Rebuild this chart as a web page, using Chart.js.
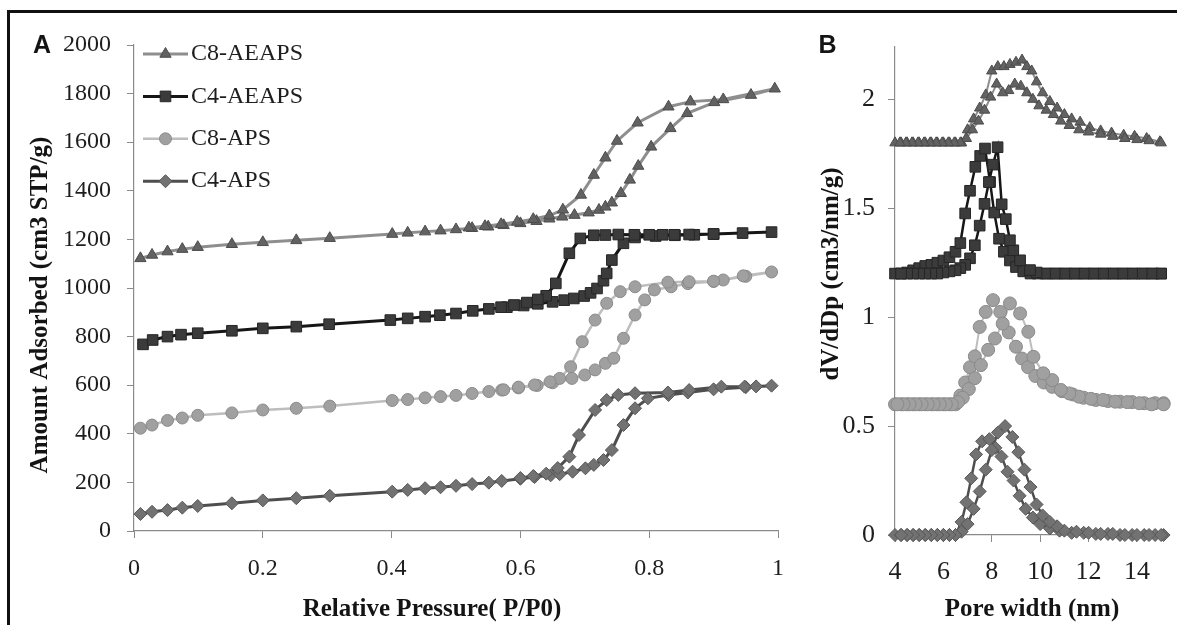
<!DOCTYPE html>
<html>
<head>
<meta charset="utf-8">
<script src="https://cdn.jsdelivr.net/npm/chart.js@4.4.1/dist/chart.umd.min.js"></script>
<style>
  html, body { margin: 0; padding: 0; background: #fff; }
  #wrap { position: relative; width: 1177px; height: 625px; overflow: hidden; background: #fff; }
  #frame { position: absolute; left: 7px; top: 10px; width: 1200px; height: 660px;
           border-top: 3px solid #111; border-left: 3px solid #111; }
  #isotherm { position: absolute; left: 0; top: 0; }
  #psd { position: absolute; left: 800px; top: 0; }
</style>
</head>
<body>
<div id="wrap">
  <div id="frame"></div>
  <canvas id="isotherm" width="800" height="625"></canvas>
  <canvas id="psd" width="377" height="625"></canvas>
</div>
<script>
// ---------- Panel A: N2 isotherms (relative pressure P/P0, amount adsorbed cm3 STP/g) ----------
const c8aeapsAdsP = [0.01,0.028,0.052,0.075,0.099,0.152,0.2,0.252,0.304,0.401,0.425,0.452,0.476,0.5,0.525,0.55,0.574,0.6,0.625,0.645,0.665,0.684,0.706,0.722,0.732,0.742,0.756,0.77,0.783,0.803,0.833,0.859,0.901,0.958,0.995];
const c8aeapsAdsV = [1122,1136,1150,1160,1168,1180,1188,1196,1205,1222,1227,1232,1236,1241,1246,1252,1258,1266,1275,1285,1293,1300,1310,1321,1334,1351,1390,1445,1502,1581,1657,1719,1764,1794,1820];
const c8aeapsDesP = [0.915,0.864,0.83,0.782,0.75,0.732,0.714,0.694,0.666,0.645,0.62,0.595,0.57,0.545,0.52];
const c8aeapsDesV = [1776,1767,1746,1680,1605,1536,1465,1383,1322,1298,1283,1272,1262,1254,1248];

const c4aeapsAdsP = [0.014,0.029,0.052,0.073,0.099,0.152,0.2,0.252,0.303,0.398,0.425,0.452,0.475,0.5,0.526,0.551,0.579,0.605,0.627,0.65,0.668,0.683,0.699,0.709,0.719,0.729,0.734,0.742,0.76,0.778,0.81,0.84,0.87,0.9,0.945,0.99];
const c4aeapsAdsV = [768,786,800,808,814,824,834,841,851,868,875,882,888,895,906,914,921,928,935,943,950,957,967,980,998,1030,1060,1115,1184,1208,1214,1217,1219,1222,1226,1230];
const c4aeapsDesP = [0.9,0.862,0.839,0.821,0.8,0.777,0.752,0.732,0.714,0.693,0.676,0.655,0.64,0.627,0.61,0.59,0.57];
const c4aeapsDesV = [1222,1220,1219,1219,1219,1219,1220,1218,1217,1204,1143,1019,968,953,940,930,921];

const c8apsAdsP = [0.01,0.028,0.052,0.075,0.099,0.152,0.2,0.252,0.304,0.401,0.425,0.452,0.476,0.5,0.525,0.551,0.571,0.597,0.626,0.65,0.68,0.7,0.716,0.732,0.745,0.76,0.778,0.793,0.808,0.834,0.86,0.9,0.95,0.99];
const c8apsAdsV = [423,436,455,465,476,486,498,505,514,537,541,548,553,558,566,574,580,589,599,610,628,642,663,690,711,793,889,951,992,1005,1018,1027,1048,1066];
const c8apsDesP = [0.946,0.915,0.9,0.862,0.829,0.778,0.755,0.734,0.716,0.696,0.678,0.661,0.646,0.622,0.597,0.574];
const c8apsDesV = [1050,1033,1028,1026,1024,1005,985,937,868,779,676,628,614,601,592,581];

const c4apsAdsP = [0.01,0.028,0.052,0.075,0.099,0.152,0.2,0.252,0.304,0.401,0.425,0.452,0.476,0.5,0.525,0.551,0.571,0.6,0.622,0.647,0.661,0.681,0.701,0.714,0.729,0.742,0.76,0.778,0.798,0.83,0.86,0.9,0.95,0.99];
const c4apsAdsV = [70,79,86,96,103,114,126,135,145,162,169,176,180,186,193,199,206,215,222,229,234,244,258,272,292,333,436,505,546,560,570,583,592,598];
const c4apsDesP = [0.966,0.948,0.912,0.862,0.829,0.778,0.752,0.734,0.716,0.691,0.676,0.658,0.64,0.62,0.6];
const c4apsDesV = [595,594,594,580,570,567,560,539,498,395,306,259,236,226,218];

const pressureTicks = [0, 0.2, 0.4, 0.6, 0.8, 1];
const pressureTickLabels = ['0', '0.2', '0.4', '0.6', '0.8', '1'];
const amountTicks = [0, 200, 400, 600, 800, 1000, 1200, 1400, 1600, 1800, 2000];
const amountTickLabels = ['0', '200', '400', '600', '800', '1000', '1200', '1400', '1600', '1800', '2000'];

// ---------- Panel B: pore size distributions (pore width nm, dV/dDp, stacked offsets) ----------
const c8aeapsPsd1W = [4.0,4.25,4.5,4.75,5.0,5.25,5.5,5.75,6.0,6.25,6.5,6.75,7.0,7.25,7.5,7.75,8.0,8.25,8.5,8.75,9.0,9.25,9.45,9.65,9.85,10.1,10.4,10.7,11.0,11.3,11.65,12.05,12.5,12.95,13.45,13.9,14.4,14.95];
const c8aeapsPsd1D = [1.8,1.8,1.8,1.8,1.8,1.8,1.8,1.8,1.8,1.8,1.8,1.8,1.86,1.91,1.96,2.02,2.13,2.15,2.15,2.16,2.17,2.18,2.15,2.13,2.08,2.03,1.99,1.96,1.93,1.91,1.895,1.87,1.855,1.845,1.835,1.83,1.82,1.805];
const c8aeapsPsd2W = [15.0,14.5,14.0,13.5,13.0,12.5,12.0,11.6,11.2,10.85,10.55,10.25,9.95,9.7,9.45,9.2,8.95,8.7,8.45,8.2,7.95,7.7,7.45,7.2,6.95,6.7,6.45,6.2,5.95,5.7,5.45,5.2,4.95,4.7,4.45,4.2];
const c8aeapsPsd2D = [1.8,1.81,1.815,1.82,1.83,1.84,1.85,1.86,1.88,1.9,1.93,1.95,1.97,2.0,2.03,2.06,2.07,2.04,2.03,2.07,2.01,1.95,1.9,1.86,1.82,1.8,1.8,1.8,1.8,1.8,1.8,1.8,1.8,1.8,1.8,1.8];

const c4aeapsPsd1W = [4.0,4.25,4.5,4.75,5.0,5.25,5.5,5.75,6.0,6.25,6.5,6.7,6.9,7.1,7.32,7.52,7.72,7.93,8.1,8.3,8.5,8.75,9.0,9.3,9.6,9.9,10.3,10.7,11.1,11.5,11.9,12.3,12.7,13.1,13.5,13.9,14.3,14.7,15.0];
const c4aeapsPsd1D = [1.2,1.2,1.205,1.215,1.225,1.235,1.24,1.25,1.26,1.275,1.3,1.34,1.476,1.58,1.69,1.74,1.774,1.62,1.48,1.36,1.3,1.26,1.23,1.21,1.2,1.2,1.2,1.2,1.2,1.2,1.2,1.2,1.2,1.2,1.2,1.2,1.2,1.2,1.2];
const c4aeapsPsd2W = [15.0,14.6,14.2,13.8,13.4,13.0,12.6,12.2,11.8,11.4,11.0,10.6,10.2,9.85,9.58,9.17,8.89,8.75,8.58,8.41,8.24,8.05,7.88,7.7,7.5,7.3,7.1,6.9,6.7,6.5,6.25,6.0,5.75,5.5,5.25,5.0,4.75,4.5,4.25];
const c4aeapsPsd2D = [1.2,1.2,1.2,1.2,1.2,1.2,1.2,1.2,1.2,1.2,1.2,1.2,1.2,1.205,1.216,1.261,1.307,1.353,1.45,1.518,1.78,1.7,1.62,1.52,1.42,1.33,1.27,1.24,1.225,1.215,1.21,1.205,1.2,1.2,1.2,1.2,1.2,1.2,1.2];

const c8apsPsd1W = [4.0,4.25,4.5,4.75,5.0,5.25,5.5,5.75,6.0,6.25,6.5,6.7,6.9,7.1,7.3,7.5,7.75,8.05,8.35,8.7,9.0,9.25,9.5,9.8,10.15,10.5,10.9,11.35,11.8,12.3,12.8,13.3,13.8,14.3,14.75,15.1];
const c8apsPsd1D = [0.6,0.6,0.6,0.6,0.6,0.6,0.6,0.6,0.6,0.6,0.6,0.64,0.7,0.77,0.82,0.955,1.024,1.078,1.024,0.93,0.864,0.81,0.77,0.73,0.7,0.68,0.66,0.645,0.63,0.62,0.615,0.612,0.61,0.605,0.605,0.605];
const c8apsPsd2W = [15.1,14.6,14.1,13.6,13.1,12.6,12.1,11.6,11.2,10.85,10.5,10.13,9.72,9.51,9.17,8.75,8.45,8.13,7.85,7.55,7.3,7.05,6.8,6.6,6.35,6.1,5.85,5.6,5.35,5.1,4.85,4.6,4.35,4.1];
const c8apsPsd2D = [0.6,0.6,0.605,0.61,0.612,0.62,0.625,0.635,0.65,0.666,0.711,0.742,0.818,0.933,1.017,1.063,0.97,0.902,0.85,0.78,0.72,0.67,0.63,0.61,0.6,0.6,0.6,0.6,0.6,0.6,0.6,0.6,0.6,0.6];

const c4apsPsd1W = [4.0,4.25,4.5,4.75,5.0,5.25,5.5,5.75,6.0,6.25,6.5,6.75,6.95,7.15,7.35,7.6,7.9,8.15,8.4,8.65,8.9,9.15,9.4,9.7,10.0,10.4,10.8,11.3,11.8,12.3,12.8,13.3,13.8,14.3,14.75,15.1];
const c4apsPsd1D = [0,0,0,0,0,0,0,0,0,0,0,0.06,0.15,0.26,0.37,0.43,0.44,0.40,0.36,0.29,0.25,0.18,0.12,0.08,0.05,0.03,0.02,0.01,0.01,0.005,0.005,0,0,0,0,0];
const c4apsPsd2W = [15.0,14.5,14.0,13.5,13.0,12.5,12.0,11.5,11.0,10.7,10.4,10.1,9.85,9.6,9.35,9.1,8.85,8.55,8.25,8.0,7.75,7.5,7.25,7.0,6.75,6.5,6.25,6.0,5.75,5.5,5.25,5.0,4.75,4.5,4.25];
const c4apsPsd2D = [0,0,0,0,0.005,0.005,0.01,0.015,0.02,0.04,0.06,0.09,0.14,0.22,0.3,0.38,0.45,0.5,0.47,0.39,0.3,0.2,0.12,0.05,0.015,0,0,0,0,0,0,0,0,0,0];

const widthTicks = [4, 6, 8, 10, 12, 14];
const widthTickLabels = ['4', '6', '8', '10', '12', '14'];
const dvTicks = [0, 0.5, 1, 1.5, 2];
const dvTickLabels = ['0', '0.5', '1', '1.5', '2'];

// ---------- helpers ----------
const SERIF = "'Liberation Serif', 'Times New Roman', serif";
const AXIS_GREY = '#8a8a8a';
Chart.defaults.font.family = SERIF;
Chart.defaults.color = '#1e1e1e';

// isotherm / PSD curves run out on one branch and back on the other
const branchPoints = (xs1, ys1, xs2, ys2) =>
  xs1.map((x, i) => ({ x, y: ys1[i] })).concat(xs2.map((x, i) => ({ x, y: ys2[i] })));

function axis({ min, max, values, labels, size, pad, font, horizontal }) {
  return {
    type: 'linear', min, max,
    afterBuildTicks: s => { s.ticks = values.map(v => ({ value: v })); },
    afterFit: s => { if (horizontal) s.height = size; else s.width = size; },
    ticks: { autoSkip: false, maxRotation: 0, padding: pad, font: { size: font, family: SERIF }, color: '#1e1e1e',
             callback: (v, i) => labels[i] },
    grid: { display: true, drawOnChartArea: false, drawTicks: true, tickLength: 7,
            color: AXIS_GREY, lineWidth: 1 },
    border: { display: true, color: AXIS_GREY, width: 1.2 }
  };
}

const seriesStyle = {
  'C8-AEAPS': { borderColor: '#8e8e8e', pointStyle: 'triangle', pointBackgroundColor: '#626262', pointBorderColor: '#4c4c4c' },
  'C4-AEAPS': { borderColor: '#161616', pointStyle: 'rect',     pointBackgroundColor: '#3b3b3b', pointBorderColor: '#262626' },
  'C8-APS':   { borderColor: '#bdbdbd', pointStyle: 'circle',   pointBackgroundColor: '#a0a0a0', pointBorderColor: '#8a8a8a' },
  'C4-APS':   { borderColor: '#4e4e4e', pointStyle: 'rectRot',  pointBackgroundColor: '#727272', pointBorderColor: '#575757' }
};

function dataset(label, data, lineWidth, radius, order) {
  return Object.assign({ label, data, showLine: true, borderWidth: lineWidth, pointRadius: radius,
    pointBorderWidth: 1, pointHoverRadius: radius, clip: false, order, tension: 0 }, seriesStyle[label]);
}

// panel letter and axis titles
const panelText = {
  id: 'panelText',
  afterDraw(chart, args, o) {
    const ctx = chart.ctx;
    ctx.save();
    ctx.fillStyle = '#141414';
    ctx.textAlign = 'center';
    ctx.textBaseline = 'middle';
    ctx.font = "bold 25px 'Liberation Sans', Arial, sans-serif";
    ctx.fillText(o.letter, o.letterX, o.letterY);
    ctx.font = 'bold 25px ' + SERIF;
    ctx.fillText(o.xTitle, o.xTitleX, o.xTitleY);
    ctx.translate(o.yTitleX, o.yTitleY);
    ctx.rotate(-Math.PI / 2);
    ctx.fillText(o.yTitle, 0, 0);
    ctx.restore();
  }
};

// legend: line sample with its marker, then the series name
const seriesKey = {
  id: 'seriesKey',
  afterDatasetsDraw(chart, args, o) {
    const ctx = chart.ctx;
    chart.data.datasets.forEach((ds, i) => {
      const y = o.top + i * o.step;
      ctx.save();
      ctx.strokeStyle = ds.borderColor;
      ctx.lineWidth = ds.borderWidth;
      ctx.beginPath(); ctx.moveTo(o.x0, y); ctx.lineTo(o.x1, y); ctx.stroke();
      ctx.fillStyle = ds.pointBackgroundColor;
      ctx.strokeStyle = ds.pointBorderColor;
      ctx.lineWidth = 1;
      Chart.helpers.drawPoint(ctx, { pointStyle: ds.pointStyle, radius: ds.pointRadius, borderWidth: 1, rotation: 0 },
        (o.x0 + o.x1) / 2, y);
      ctx.fillStyle = '#1e1e1e';
      ctx.font = '24px ' + SERIF;
      ctx.textAlign = 'left';
      ctx.textBaseline = 'middle';
      ctx.fillText(ds.label, o.textX, y);
      ctx.restore();
    });
  }
};

const common = { responsive: false, devicePixelRatio: 1, animation: false, events: [] };

// ---------- Panel A ----------
new Chart(document.getElementById('isotherm'), {
  type: 'scatter',
  data: {
    datasets: [
      dataset('C8-AEAPS', branchPoints(c8aeapsAdsP, c8aeapsAdsV, c8aeapsDesP, c8aeapsDesV), 3, 6.5, 3),
      dataset('C4-AEAPS', branchPoints(c4aeapsAdsP, c4aeapsAdsV, c4aeapsDesP, c4aeapsDesV), 3, 7.5, 0),
      dataset('C8-APS',   branchPoints(c8apsAdsP, c8apsAdsV, c8apsDesP, c8apsDesV), 2.5, 6, 2),
      dataset('C4-APS',   branchPoints(c4apsAdsP, c4apsAdsV, c4apsDesP, c4apsDesV), 3, 6.5, 1)
    ]
  },
  options: Object.assign({}, common, {
    layout: { padding: { left: 0, right: 11, top: 45, bottom: 0 } },
    scales: {
      x: axis({ min: 0, max: 1, values: pressureTicks, labels: pressureTickLabels, size: 94, pad: 16, font: 24, horizontal: true }),
      y: axis({ min: 0, max: 2000, values: amountTicks, labels: amountTickLabels, size: 134, pad: 16, font: 24, horizontal: false })
    },
    plugins: {
      legend: { display: false }, tooltip: { enabled: false },
      panelText: { letter: 'A', letterX: 42, letterY: 46, xTitle: 'Relative Pressure( P/P0)', xTitleX: 432, xTitleY: 610,
                   yTitle: 'Amount Adsorbed (cm3 STP/g)', yTitleX: 41, yTitleY: 305 },
      seriesKey: { top: 54, step: 42.4, x0: 143, x1: 188, textX: 191 }
    }
  }),
  plugins: [panelText, seriesKey]
});

// ---------- Panel B ----------
new Chart(document.getElementById('psd'), {
  type: 'scatter',
  data: {
    datasets: [
      dataset('C8-AEAPS', branchPoints(c8aeapsPsd1W, c8aeapsPsd1D, c8aeapsPsd2W, c8aeapsPsd2D), 2, 6, 3),
      dataset('C4-AEAPS', branchPoints(c4aeapsPsd1W, c4aeapsPsd1D, c4aeapsPsd2W, c4aeapsPsd2D), 2.5, 7.5, 0),
      dataset('C8-APS',   branchPoints(c8apsPsd1W, c8apsPsd1D, c8apsPsd2W, c8apsPsd2D), 2, 6.5, 2),
      dataset('C4-APS',   branchPoints(c4apsPsd1W, c4apsPsd1D, c4apsPsd2W, c4apsPsd2D), 2.5, 6.5, 1)
    ]
  },
  options: Object.assign({}, common, {
    layout: { padding: { left: 0, right: 11, top: 47, bottom: 0 } },
    scales: {
      x: axis({ min: 4, max: 15.2, values: widthTicks, labels: widthTickLabels, size: 90, pad: 15, font: 26, horizontal: true }),
      y: axis({ min: 0, max: 2.24, values: dvTicks, labels: dvTickLabels, size: 95, pad: 13, font: 26, horizontal: false })
    },
    plugins: {
      legend: { display: false }, tooltip: { enabled: false },
      panelText: { letter: 'B', letterX: 27.5, letterY: 46, xTitle: 'Pore width (nm)', xTitleX: 232, xTitleY: 610,
                   yTitle: 'dV/dDp (cm3/nm/g)', yTitleX: 31.7, yTitleY: 274 }
    }
  }),
  plugins: [panelText]
});
</script>
</body>
</html>
